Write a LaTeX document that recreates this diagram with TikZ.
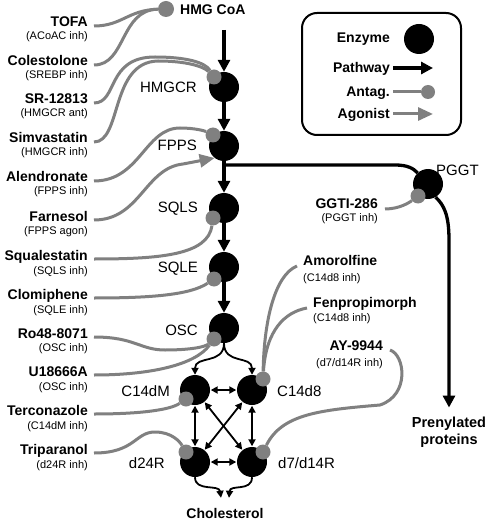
\documentclass[tikz,border=0pt]{standalone}
\usepackage{fontspec}
\setmainfont{Liberation Sans}
\usetikzlibrary{arrows.meta}
\definecolor{agray}{RGB}{128,128,128}
\begin{document}
\begin{tikzpicture}[x=1pt,y=-1pt,
  enz/.style={circle,fill=black,minimum size=30pt,inner sep=0pt},
  adot/.style={circle,fill=agray,minimum size=15pt,inner sep=0pt},
  drug/.style={font=\bfseries\fontsize{14}{14}\selectfont,inner sep=0pt,text height=10pt,text depth=0pt},
  sub/.style={font=\fontsize{11}{11}\selectfont,inner sep=0pt,text height=8pt,text depth=0pt},
  elab/.style={font=\fontsize{15}{15}\selectfont,inner sep=0pt,text height=11pt,text depth=0pt},
  pathw/.style={line width=3.3pt,-{Triangle[width=12pt,length=12pt]}},
  net/.style={line width=1.8pt,-{Triangle[width=7pt,length=7pt]}},
  netboth/.style={line width=1.8pt,{Triangle[width=7pt,length=7pt]}-{Triangle[width=7pt,length=7pt]},shorten <=0.5pt,shorten >=0.5pt},
  inh/.style={draw=agray,line width=3pt},
  ago/.style={inh,-{Triangle[width=13pt,length=15pt]}},
]
\useasboundingbox[fill=white] (0,0) rectangle (490,521);

% enzymes
\node[enz] (hmgcr) at (224,87) {};
\node[enz] (fpps) at (224,146) {};
\node[enz] (sqls) at (224,208) {};
\node[enz] (sqle) at (224,267) {};
\node[enz] (osc) at (224,328) {};
\node[enz] (c14dm) at (195,390) {};
\node[enz] (c14d8) at (252,390) {};
\node[enz] (d24r) at (195,462) {};
\node[enz] (d7) at (252,462) {};
\node[enz] (pggt) at (428,184) {};

% enzyme labels
\node[elab,anchor=east] (lhmgcr) at (197,87) {HMGCR};
\node[elab,anchor=east] (lfpps) at (197,145) {FPPS};
\node[elab,anchor=east] (lsqls) at (198,207) {SQLS};
\node[elab,anchor=east] (lsqle) at (198,267) {SQLE};
\node[elab,anchor=east] (losc) at (198,330) {OSC};
\node[elab,anchor=east] (lc14dm) at (170,391) {C14dM};
\node[elab,anchor=east] (ld24r) at (165,463) {d24R};
\node[elab,anchor=west] (lc14d8) at (277,391) {C14d8};
\node[elab,anchor=west] (ld7) at (278,463) {d7/d14R};
\node[elab,anchor=west] (lpggt) at (436,170) {PGGT};

% metabolites
\node[drug,anchor=west] (hmgcoa) at (180,10) {HMG CoA};
\coordinate (hmgtop) at (224,30);
\node[drug,inner ysep=10pt] (chol) at (225,513) {Cholesterol};
\node[font=\bfseries\fontsize{14.5}{17}\selectfont,align=center,inner xsep=0pt,inner ysep=9pt] (prenyl) at (449,432) {Prenylated\\proteins};

% antagonist dots
\node[adot,minimum size=16pt] (dhmg) at (166,9) {};
\node[adot] (dhmgcr) at (214,77) {};
\node[adot] (dfpps) at (213,135) {};
\node[adot] (dsqls) at (213,218) {};
\node[adot] (dsqle) at (214,279) {};
\node[adot] (dosc) at (214,339) {};
\node[adot] (dc14dm) at (186,399) {};
\node[adot] (dd24r) at (186,452) {};
\node[adot] (dc14d8) at (263,379) {};
\node[adot] (dd7) at (263,452) {};
\node[adot] (dpggt) at (418,196) {};

% drugs (left)
\node[drug,anchor=east] (tofa) at (88,22) {TOFA};
\node[sub,anchor=east] (tofas) at (88,36) {(ACoAC inh)};
\node[drug,anchor=east] (colest) at (88,61) {Colestolone};
\node[sub,anchor=east] (colests) at (88,75) {(SREBP inh)};
\node[drug,anchor=east] (sr) at (88,99) {SR-12813};
\node[sub,anchor=east] (srs) at (88,113) {(HMGCR ant)};
\node[drug,anchor=east] (simva) at (88,138) {Simvastatin};
\node[sub,anchor=east] (simvas) at (88,152) {(HMGCR inh)};
\node[drug,anchor=east] (alend) at (88,177) {Alendronate};
\node[sub,anchor=east] (alends) at (88,191) {(FPPS inh)};
\node[drug,anchor=east] (farn) at (88,216) {Farnesol};
\node[sub,anchor=east] (farns) at (88,230) {(FPPS agon)};
\node[drug,anchor=east] (squal) at (88,255) {Squalestatin};
\node[sub,anchor=east] (squals) at (88,270) {(SQLS inh)};
\node[drug,anchor=east] (clomi) at (88,294) {Clomiphene};
\node[sub,anchor=east] (clomis) at (88,309) {(SQLE inh)};
\node[drug,anchor=east] (ro48) at (88,333) {Ro48-8071};
\node[sub,anchor=east] (ro48s) at (88,347) {(OSC inh)};
\node[drug,anchor=east] (u186) at (88,371) {U18666A};
\node[sub,anchor=east] (u186s) at (88,386) {(OSC inh)};
\node[drug,anchor=east] (terco) at (88,410) {Terconazole};
\node[sub,anchor=east] (tercos) at (88,425) {(C14dM inh)};
\node[drug,anchor=east] (tripar) at (88,449) {Triparanol};
\node[sub,anchor=east] (tripars) at (88,464) {(d24R inh)};

% drugs (right)
\node[drug,anchor=east] (ggti) at (378,203) {GGTI-286};
\node[sub,anchor=east] (ggtis) at (378,218) {(PGGT inh)};
\node[drug,anchor=west] (amor) at (303,260) {Amorolfine};
\node[sub,anchor=west] (amors) at (303,277) {(C14d8 inh)};
\node[drug,anchor=west] (fenp) at (313,302) {Fenpropimorph};
\node[sub,anchor=west] (fenps) at (313,317) {(C14d8 inh)};
\node[drug,anchor=east] (ay) at (383,345) {AY-9944};
\node[sub,anchor=east] (ays) at (383,362) {(d7/d14R inh)};

% main pathway
\draw[pathw] (hmgtop) -- (hmgcr);
\draw[pathw] (hmgcr) -- (fpps);
\draw[pathw] (fpps) -- (sqls);
\draw[pathw] (sqls) -- (sqle);
\draw[pathw] (sqle) -- (osc);
\coordinate (br) at (224,165);
\draw[line width=3.3pt] (br) -- (395,165) .. controls (407,165) and (413,168) .. (pggt);
\draw[pathw] (pggt.-60) .. controls (444,205) and (449,215) .. (449,240) -- (prenyl.north);

% sterol network
\draw[net] (osc.south) .. controls (224,365) and (195,355) .. (c14dm.north);
\draw[net] (osc.south) .. controls (224,365) and (252,355) .. (c14d8.north);
\draw[netboth] (c14dm) -- (c14d8);
\draw[netboth] (c14dm) -- (d24r);
\draw[netboth] (c14d8) -- (d7);
\draw[netboth] (d24r) -- (d7);
\draw[netboth] (c14dm) -- (d7);
\draw[netboth] (c14d8) -- (d24r);
\draw[net] (d24r.south) .. controls (195,492) and (219,484) .. ([xshift=-4pt]chol.north);
\draw[net] (d7.south) .. controls (252,492) and (230,484) .. ([xshift=4pt]chol.north);

% inhibitor / agonist curves
\draw[inh] ([xshift=6pt,yshift=-4pt]tofa.east) .. controls (122,26) and (128,10) .. (dhmg);
\draw[inh] ([xshift=6pt,yshift=-4pt]colest.east) .. controls (126,65) and (120,10) .. (dhmg);
\draw[inh] ([xshift=6pt,yshift=-4pt]sr.east) .. controls (118,103) and (106,57) .. (155,57) .. controls (185,57) and (205,62) .. (dhmgcr);
\draw[inh] ([xshift=6pt,yshift=-4pt]simva.east) .. controls (122,142) and (110,62) .. (158,61) .. controls (185,61) and (203,66) .. (dhmgcr);
\draw[inh] ([xshift=6pt,yshift=-4pt]alend.east) .. controls (140,181) and (145,128) .. (180,128) .. controls (195,128) and (205,131) .. (dfpps);
\draw[ago] ([xshift=6pt,yshift=-4pt]farn.east) .. controls (140,220) and (145,168) .. (183,164) -- (fpps.232);
\draw[inh] ([xshift=6pt,yshift=-4pt]squal.east) .. controls (160,259) and (208,255) .. (dsqls);
\draw[inh] ([xshift=6pt,yshift=-4pt]clomi.east) .. controls (150,298) and (190,295) .. (dsqle);
\draw[inh] ([xshift=6pt,yshift=-4pt]ro48.east) .. controls (135,337) and (140,350) .. (165,350) .. controls (190,350) and (205,347) .. (dosc);
\draw[inh] ([xshift=6pt,yshift=-4pt]u186.east) .. controls (150,375) and (195,365) .. (dosc);
\draw[inh] ([xshift=6pt,yshift=-4pt]terco.east) .. controls (140,414) and (170,410) .. (dc14dm);
\draw[inh] ([xshift=6pt,yshift=-4pt]tripar.east) .. controls (135,453) and (135,432) .. (155,432) .. controls (172,432) and (180,442) .. (dd24r);
\draw[inh] ([xshift=7pt,yshift=-6pt]ggti.east) .. controls (400,209) and (410,202) .. (dpggt);
\draw[inh] ([xshift=-6pt,yshift=-6pt]amor.west) .. controls (275,275) and (264,320) .. (dc14d8);
\draw[inh] ([xshift=-6pt,yshift=-6pt]fenp.west) .. controls (285,312) and (266,330) .. (dc14d8);
\draw[inh] ([xshift=7pt,yshift=-5pt]ay.east) .. controls (405,355) and (410,395) .. (380,405) .. controls (320,410) and (282,414) .. (dd7);

% legend
\node[draw,line width=2pt,rounded corners=15pt,minimum width=159pt,minimum height=122pt,inner sep=0pt] (legend) at (381.5,74) {};
\node[drug,anchor=east] (lgenz) at (390,38) {Enzyme};
\node[enz] (lgcirc) at (419,39) {};
\node[drug,anchor=east] (lgpath) at (390,68) {Pathway};
\coordinate (lgpathend) at (433,68);
\draw[pathw] ([xshift=3pt]lgpath.east) -- (lgpathend);
\node[drug,anchor=east] (lgant) at (390,92) {Antag.};
\node[adot,minimum size=14pt] (lgdot) at (428,92) {};
\draw[inh] ([xshift=3pt]lgant.east) -- (lgdot);
\node[drug,anchor=east] (lgago) at (390,114) {Agonist};
\coordinate (lgagoend) at (433,114);
\draw[ago] ([xshift=3pt]lgago.east) -- (lgagoend);
\end{tikzpicture}
\end{document}
